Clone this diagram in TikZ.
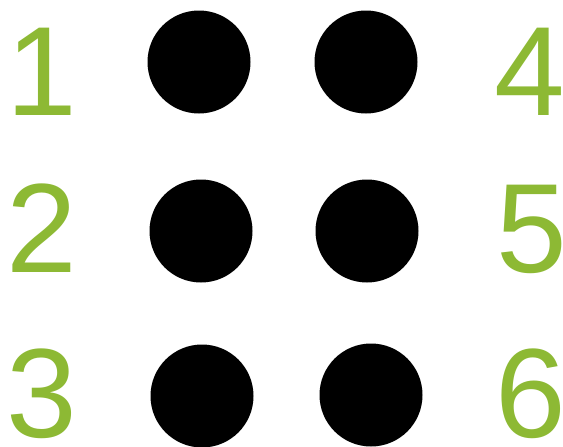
\documentclass[tikz,border=0pt]{standalone}
\usepackage{fontspec}
\setmainfont{Liberation Sans}
\definecolor{braillegreen}{RGB}{141,185,52}
\begin{document}
\begin{tikzpicture}[x=1pt,y=-1pt,
    dot/.style={circle, fill=black, minimum size=103pt, inner sep=0pt},
    num/.style={text=braillegreen, anchor=base, inner sep=0pt, font=\fontsize{127}{127}\selectfont}]
    \useasboundingbox (0,0) rectangle (563,447);

    % Dots of the cell
    \node[dot] (d1) at (199,62) {};
    \node[dot] (d2) at (201,231) {};
    \node[dot] (d3) at (202,396) {};
    \node[dot] (d4) at (366,62) {};
    \node[dot] (d5) at (367,231) {};
    \node[dot] (d6) at (371,395) {};

    % Numbers
    \node[num] (l1) at (42,115) {1};
    \node[num] (l2) at (42,272) {2};
    \node[num] (l3) at (42,437) {3};
    \node[num] (l4) at (530,115) {4};
    \node[num] (l5) at (532,272) {5};
    \node[num] (l6) at (531,437) {6};
\end{tikzpicture}
\end{document}
